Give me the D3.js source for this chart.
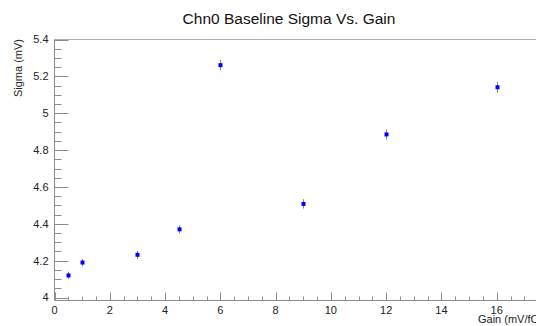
<!DOCTYPE html>
<html><head><meta charset="utf-8">
<script src="https://cdn.jsdelivr.net/npm/d3@7/dist/d3.min.js"></script>
<style>
html,body{margin:0;padding:0;background:#fff;}
svg{display:block;font-family:"Liberation Sans",Arial,Helvetica,sans-serif;}
</style></head>
<body>
<svg id="chart" width="536" height="326"></svg>
<script>
const gains = [0.5, 1, 3, 4.5, 6, 9, 12, 16];
const sigmas = [4.12, 4.19, 4.232, 4.37, 5.261, 4.508, 4.885, 5.141];
const errors = [0.02, 0.02, 0.022, 0.022, 0.028, 0.025, 0.028, 0.03];
const xTicks = [0, 2, 4, 6, 8, 10, 12, 14, 16];
const yTicks = [4, 4.2, 4.4, 4.6, 4.8, 5, 5.2, 5.4];
const titleText = "Chn0 Baseline Sigma Vs. Gain";
const xTitle = "Gain (mV/fC)";
const yTitle = "Sigma (mV)";

const svg = d3.select("#chart");
const W = 536, H = 326;
const x0 = 54.5, x16 = 496.7;
const xPerUnit = (x16 - x0) / 16;
const x = d3.scaleLinear().domain([0, (W - x0) / xPerUnit + 0.5]).range([x0, W + 0.5 * xPerUnit]);
const y = d3.scaleLinear().domain([3.984, 5.4]).range([300.5, 39.5]);

const axisColor = "#8c8c8c";

// top frame line
svg.append("line").attr("x1", x0).attr("x2", W).attr("y1", y(5.4)).attr("y2", y(5.4))
  .attr("stroke", "#b0b0b0").attr("stroke-width", 1);

// Y axis
const yMinor = d3.range(4, 5.4001, 0.05).map(v => +v.toFixed(2));
const yAx = svg.append("g").attr("transform", `translate(${x0},0)`);
yAx.append("line").attr("x1", 0).attr("x2", 0).attr("y1", y.range()[0]).attr("y2", y.range()[1])
  .attr("stroke", axisColor);
yAx.selectAll("line.minor").data(yMinor).join("line").attr("class", "minor")
  .attr("x1", 0).attr("x2", d => yTicks.some(t => Math.abs(t - d) < 1e-6) ? 14 : 7)
  .attr("y1", d => Math.round(y(d)) + 0.5).attr("y2", d => Math.round(y(d)) + 0.5)
  .attr("stroke", axisColor);
yAx.selectAll("text").data(yTicks).join("text")
  .attr("x", -6).attr("y", d => y(d)).attr("dy", "0.35em")
  .attr("text-anchor", "end").attr("font-size", 11).attr("fill", "#222")
  .text(d => String(+d.toFixed(1)));

// X axis
const xMinor = d3.range(0, 17.5, 0.5);
const xAx = svg.append("g").attr("transform", `translate(0,${y.range()[0]})`);
xAx.append("line").attr("x1", x0).attr("x2", W).attr("y1", 0).attr("y2", 0).attr("stroke", axisColor);
xAx.selectAll("line.minor").data(xMinor).join("line").attr("class", "minor")
  .attr("x1", d => Math.round(x(d)) + 0.5).attr("x2", d => Math.round(x(d)) + 0.5)
  .attr("y1", 0).attr("y2", d => (d % 2 === 0) ? -8 : -4)
  .attr("stroke", axisColor);
xAx.selectAll("text").data(xTicks).join("text")
  .attr("x", d => x(d)).attr("y", 13)
  .attr("text-anchor", "middle").attr("font-size", 11).attr("fill", "#222")
  .text(d => d);

// titles
svg.append("text").attr("x", 289).attr("y", 24).attr("text-anchor", "middle")
  .attr("font-size", 15.5).attr("fill", "#111").text(titleText);
svg.append("text").attr("x", 478).attr("y", 323).attr("text-anchor", "start")
  .attr("font-size", 11).attr("fill", "#222").text(xTitle);
svg.append("text").attr("transform", "translate(22,39) rotate(-90)").attr("text-anchor", "end")
  .attr("font-size", 11).attr("fill", "#222").text(yTitle);

// data
const pts = gains.map((g, i) => ({g, s: sigmas[i], e: errors[i]}));
svg.append("g").selectAll("line").data(pts).join("line")
  .attr("x1", d => Math.round(x(d.g)) + 0.5).attr("x2", d => Math.round(x(d.g)) + 0.5)
  .attr("y1", d => y(d.s - d.e)).attr("y2", d => y(d.s + d.e))
  .attr("stroke", "#888").attr("stroke-width", 1);
svg.append("g").selectAll("rect").data(pts).join("rect")
  .attr("x", d => Math.round(x(d.g)) - 1.5).attr("y", d => y(d.s) - 2)
  .attr("width", 4).attr("height", 4).attr("fill", "#0000ff");
</script>
</body></html>
